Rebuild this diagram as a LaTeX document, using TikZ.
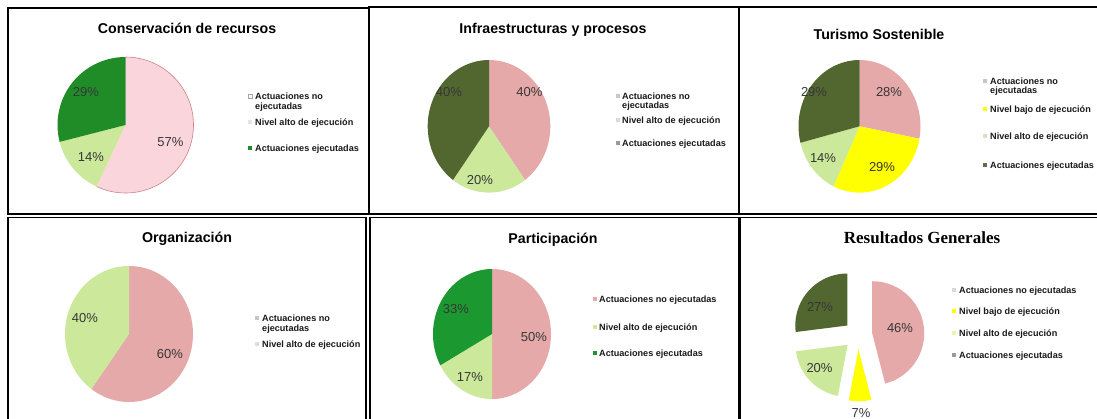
\documentclass[tikz,border=0pt]{standalone}
\usepackage{fontspec}
\setmainfont{Liberation Sans}
\newfontfamily\serifbold{Liberation Serif}
\definecolor{pinkA}{RGB}{250,214,220}
\definecolor{pinkEdge}{RGB}{205,130,135}
\definecolor{pinkB}{RGB}{229,169,169}
\definecolor{lgreen}{RGB}{203,232,155}
\definecolor{dgreenA}{RGB}{32,140,40}
\definecolor{dgreenB}{RGB}{28,152,48}
\definecolor{olive}{RGB}{82,102,48}
\definecolor{yel}{RGB}{255,255,0}
\definecolor{pcttext}{RGB}{55,55,55}
\newcommand\mypie[7]{%
  \begin{scope}[shift={(#1,#2)},yscale=-1]
    \fill[#7] (0,0) -- (#5:#3 and #4) arc[start angle=#5,end angle=#6,x radius=#3,y radius=#4] -- cycle;
  \end{scope}}
\begin{document}
\begin{tikzpicture}[x=1pt,y=-1pt,
  frame/.style={draw=black,line width=1.6pt},
  ttl/.style={anchor=base,inner sep=0,font=\bfseries\fontsize{14.2}{14}\selectfont},
  leg/.style={anchor=base west,inner sep=0,font=\bfseries\fontsize{9.1}{9}\selectfont,text=black!90},
  pct/.style={anchor=center,inner sep=0,font=\fontsize{13}{13}\selectfont,text=pcttext},
  mk/.style={inner sep=0,minimum size=4pt,draw=none}]
\useasboundingbox (0,0) rectangle (1097,418);
\fill[white] (0,0) rectangle (1097,418);
\begin{scope}
\clip (0,0) rectangle (1097,418);
\draw[frame] (8,8) rectangle (369,214);
\draw[frame] (369,7) rectangle (739,214);
\draw[frame] (739,7) rectangle (1110,214);
\draw[frame] (8,217.5) rectangle (366,430);
\draw[frame] (370,217.5) rectangle (739,430);
\draw[frame] (740,217.5) rectangle (1110,430);
\end{scope}

% ---------- Panel 1 ----------
\node[ttl] (t1) at (187,33) {Conservación de recursos};
\mypie{125.5}{125}{68}{68}{90}{-115.2}{pinkA}
\begin{scope}[shift={(125.5,125)},yscale=-1]
  \draw[pinkEdge,line width=0.6pt] (90:68 and 68) arc[start angle=90,end angle=-115.2,x radius=68,y radius=68];
\end{scope}
\mypie{125.5}{125}{68}{68}{-115.2}{-165.6}{lgreen}
\mypie{125.5}{125}{68}{68}{-165.6}{-270}{dgreenA}
\node[pct] (p1a) at (86,92) {29\%};
\node[pct] (p1b) at (91,157) {14\%};
\node[pct] (p1c) at (170.5,142) {57\%};
\node[mk,fill=white,draw=gray!70,line width=0.4pt] (m1a) at (250,96) {};
\node[leg] (l1a) at (255,99) {Actuaciones no};
\node[leg] (l1b) at (255,109) {ejecutadas};
\node[mk,fill=gray!20] (m1b) at (250,122) {};
\node[leg] (l1c) at (255,125) {Nivel alto de ejecución};
\node[mk,fill=dgreenA] (m1c) at (250,148) {};
\node[leg] (l1d) at (255,151) {Actuaciones ejecutadas};

% ---------- Panel 2 ----------
\node[ttl] (t2) at (553,33) {Infraestructuras y procesos};
\mypie{489}{126.3}{61.3}{66.3}{90}{-54}{pinkB}
\mypie{489}{126.3}{61.3}{66.3}{-54}{-126}{lgreen}
\mypie{489}{126.3}{61.3}{66.3}{-126}{-270}{olive}
\node[pct] (p2a) at (449,92) {40\%};
\node[pct] (p2b) at (529.5,92) {40\%};
\node[pct] (p2c) at (480,180) {20\%};
\node[mk,fill=pinkB!60!gray!60] (m2a) at (618,96) {};
\node[leg] (l2a) at (622,99) {Actuaciones no};
\node[leg] (l2b) at (622,108) {ejecutadas};
\node[mk,fill=gray!30] (m2b) at (618,120) {};
\node[leg] (l2c) at (622,123) {Nivel alto de ejecución};
\node[mk,fill=gray!80] (m2c) at (618,143) {};
\node[leg] (l2d) at (622,146) {Actuaciones ejecutadas};

% ---------- Panel 3 ----------
\node[ttl] (t3) at (879,39) {Turismo Sostenible};
\mypie{859.5}{126.3}{61}{66.3}{90}{-10.8}{pinkB}
\mypie{859.5}{126.3}{61}{66.3}{-10.8}{-115.2}{yel}
\mypie{859.5}{126.3}{61}{66.3}{-115.2}{-165.6}{lgreen}
\mypie{859.5}{126.3}{61}{66.3}{-165.6}{-270}{olive}
\node[pct] (p3a) at (814,92) {29\%};
\node[pct] (p3b) at (889,92) {28\%};
\node[pct] (p3c) at (823,158) {14\%};
\node[pct] (p3d) at (882,167) {29\%};
\node[mk,fill=gray!45] (m3a) at (985,81) {};
\node[leg] (l3a) at (990,84) {Actuaciones no};
\node[leg] (l3b) at (990,93) {ejecutadas};
\node[mk,fill=yel] (m3b) at (985,109) {};
\node[leg] (l3c) at (990,112) {Nivel bajo de ejecución};
\node[mk,fill=lgreen!60!gray!50] (m3c) at (985,136) {};
\node[leg] (l3d) at (990,139) {Nivel alto de ejecución};
\node[mk,fill=olive!70!gray] (m3d) at (985,165) {};
\node[leg] (l3e) at (990,168) {Actuaciones ejecutadas};

% ---------- Panel 4 ----------
\node[ttl] (t4) at (187,242) {Organización};
\mypie{129}{334}{64}{68}{90}{-126}{pinkB}
\mypie{129}{334}{64}{68}{-126}{-270}{lgreen}
\node[pct] (p4a) at (85,318) {40\%};
\node[pct] (p4b) at (170,354) {60\%};
\node[mk,fill=gray!45] (m4a) at (257,318) {};
\node[leg] (l4a) at (262,321) {Actuaciones no};
\node[leg] (l4b) at (262,331) {ejecutadas};
\node[mk,fill=gray!25] (m4b) at (257,344) {};
\node[leg] (l4c) at (262,347) {Nivel alto de ejecución};

% ---------- Panel 5 ----------
\node[ttl] (t5) at (553,243) {Participación};
\mypie{492}{334}{59}{65}{90}{-90}{pinkB}
\mypie{492}{334}{59}{65}{-90}{-151.2}{lgreen}
\mypie{492}{334}{59}{65}{-151.2}{-270}{dgreenB}
\node[pct] (p5a) at (456,309) {33\%};
\node[pct] (p5b) at (534,337) {50\%};
\node[pct] (p5c) at (470,377) {17\%};
\node[mk,fill=pinkB] (m5a) at (595,299) {};
\node[leg] (l5a) at (599,302) {Actuaciones no ejecutadas};
\node[mk,fill=lgreen] (m5b) at (595,327) {};
\node[leg] (l5b) at (599,330) {Nivel alto de ejecución};
\node[mk,fill=dgreenB] (m5c) at (595,353) {};
\node[leg] (l5c) at (599,356) {Actuaciones ejecutadas};

% ---------- Panel 6 ----------
\node[ttl,font=\serifbold\bfseries\fontsize{17}{17}\selectfont] (t6) at (922,243) {Resultados Generales};
\mypie{872.2}{333.2}{52}{52}{90}{-75.6}{pinkB}
\mypie{858.45}{349.3}{52}{52}{-75.6}{-100.8}{yel}
\mypie{847.6}{344.8}{52}{52}{-100.8}{-172.8}{lgreen}
\mypie{847.3}{325.5}{52}{52}{-172.8}{-270}{olive}
\node[pct] (p6a) at (820,307) {27\%};
\node[pct] (p6b) at (900,328) {46\%};
\node[pct] (p6c) at (819.5,368) {20\%};
\node[pct] (p6d) at (861,413) {7\%};
\node[mk,fill=gray!30] (m6a) at (954,290) {};
\node[leg] (l6a) at (959,293) {Actuaciones no ejecutadas};
\node[mk,fill=yel] (m6b) at (954,311) {};
\node[leg] (l6b) at (959,314) {Nivel bajo de ejecución};
\node[mk,fill=yel!30!lgreen!60] (m6c) at (954,333) {};
\node[leg] (l6c) at (959,336) {Nivel alto de ejecución};
\node[mk,fill=gray!80] (m6d) at (954,355) {};
\node[leg] (l6d) at (959,358) {Actuaciones ejecutadas};
\end{tikzpicture}
\end{document}
